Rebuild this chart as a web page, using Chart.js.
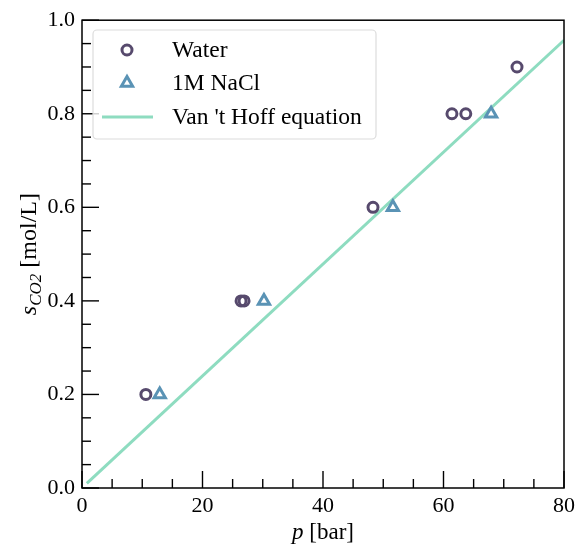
<!DOCTYPE html>
<html>
<head>
<meta charset="utf-8">
<script src="https://cdn.jsdelivr.net/npm/chart.js@4.4.1/dist/chart.umd.min.js"></script>
<style>
  html, body { margin: 0; padding: 0; background: #fff; }
  #wrap { width: 584px; height: 546px; }
</style>
</head>
<body>
<div id="wrap"><canvas id="chart" width="584" height="546"></canvas></div>
<script>
// data
const waterP = [10.6, 26.4, 26.9, 48.3, 61.4, 63.7, 72.2];
const waterS = [0.2, 0.4, 0.4, 0.6, 0.8, 0.8, 0.9];
const naclP = [12.9, 30.2, 51.6, 67.9];
const naclS = [0.2, 0.4, 0.6, 0.8];
const vantHoffP = [0.8, 80];
const vantHoffS = [0.01, 0.957];
const xTicks = [0, 20, 40, 60, 80];
const yTicks = [0.0, 0.2, 0.4, 0.6, 0.8, 1.0];

const WATER = '#574a6d';
const NACL = '#5a93b5';
const LINE = '#8edcc0';
const SERIF = '"Liberation Serif", "DejaVu Serif", serif';

const toXY = (xs, ys) => xs.map((x, i) => ({ x: x, y: ys[i] }));

// inward ticks, axis labels and legend box
const decor = {
    id: 'decor',
    afterDraw(chart) {
        const c = chart.ctx;
        const a = chart.chartArea;
        const xs = chart.scales.x, ys = chart.scales.y;
        c.save();
        c.strokeStyle = '#000';
        c.lineWidth = 1.5;
        c.strokeRect(a.left, a.top, a.right - a.left, a.bottom - a.top);
        c.lineWidth = 1.4;
        for (let v = 0; v <= 80; v += 5) {
            const px = xs.getPixelForValue(v);
            const len = v % 20 === 0 ? 17 : 9;
            c.beginPath(); c.moveTo(px, a.bottom); c.lineTo(px, a.bottom - len); c.stroke();
        }
        for (let k = 0; k <= 20; k++) {
            const py = ys.getPixelForValue(k * 0.05);
            const len = k % 4 === 0 ? 17 : 9;
            c.beginPath(); c.moveTo(a.left, py); c.lineTo(a.left + len, py); c.stroke();
        }

        // x title: italic p + [bar]
        c.fillStyle = '#000';
        c.textBaseline = 'alphabetic';
        const cx = (a.left + a.right) / 2;
        c.font = 'italic 23px ' + SERIF;
        const pW = c.measureText('p').width;
        c.font = '23px ' + SERIF;
        const bW = c.measureText(' [bar]').width;
        let sx = cx - (pW + bW) / 2;
        c.font = 'italic 23px ' + SERIF;
        c.fillText('p', sx, 539);
        c.font = '23px ' + SERIF;
        c.fillText(' [bar]', sx + pW, 539);

        // y title: s_CO2 [mol/L], rotated
        c.translate(36, (a.top + a.bottom) / 2);
        c.rotate(-Math.PI / 2);
        c.font = 'italic 24px ' + SERIF;
        const sW = c.measureText('s').width;
        c.font = 'italic 17px ' + SERIF;
        const subW = c.measureText('CO2').width;
        c.font = '24px ' + SERIF;
        const uW = c.measureText(' [mol/L]').width;
        let ty = -(sW + subW + uW) / 2;
        c.font = 'italic 24px ' + SERIF;
        c.fillText('s', ty, 0);
        c.font = 'italic 17px ' + SERIF;
        c.fillText('CO2', ty + sW, 5);
        c.font = '24px ' + SERIF;
        c.fillText(' [mol/L]', ty + sW + subW, 0);
        c.restore();

        // legend
        c.save();
        const lx = 93, ly = 30, lw = 283, lh = 109;
        c.fillStyle = 'rgba(255,255,255,0.8)';
        c.strokeStyle = '#dcdcdc';
        c.lineWidth = 1.2;
        c.beginPath();
        c.roundRect(lx, ly, lw, lh, 4);
        c.fill(); c.stroke();
        const ds = chart.data.datasets;
        const rows = [50, 83, 117];
        c.textBaseline = 'middle';
        ds.forEach((d, i) => {
            const y = rows[i];
            if (d.showLine) {
                c.strokeStyle = d.borderColor;
                c.lineWidth = d.borderWidth;
                c.beginPath(); c.moveTo(102, y); c.lineTo(153, y); c.stroke();
            } else {
                c.fillStyle = '#fff';
                c.strokeStyle = d.pointBorderColor;
                c.lineWidth = d.pointBorderWidth;
                Chart.helpers.drawPoint(c, {
                    pointStyle: d.pointStyle, radius: d.pointRadius,
                    borderWidth: d.pointBorderWidth
                }, 127, y);
            }
            c.fillStyle = '#000';
            c.font = '23.5px ' + SERIF;
            c.fillText(d.label, 172, y + 1);
        });
        c.restore();
    }
};

new Chart(document.getElementById('chart'), {
    type: 'scatter',
    data: {
        datasets: [{
            label: 'Water',
            data: toXY(waterP, waterS),
            pointStyle: 'circle',
            pointRadius: 5,
            pointBorderWidth: 3,
            pointBorderColor: WATER,
            pointBackgroundColor: 'rgba(0,0,0,0)',
            borderColor: WATER
        }, {
            label: '1M NaCl',
            data: toXY(naclP, naclS),
            pointStyle: 'triangle',
            pointRadius: 6.5,
            pointBorderWidth: 3,
            pointBorderColor: NACL,
            pointBackgroundColor: 'rgba(0,0,0,0)',
            borderColor: NACL
        }, {
            label: "Van 't Hoff equation",
            data: toXY(vantHoffP, vantHoffS),
            showLine: true,
            borderColor: LINE,
            borderWidth: 3,
            pointRadius: 0,
            order: 1
        }]
    },
    options: {
        responsive: false,
        animation: false,
        layout: { padding: { top: 18, right: 20, left: 0, bottom: 0 } },
        plugins: { legend: { display: false }, tooltip: { enabled: false } },
        scales: {
            x: {
                type: 'linear', min: 0, max: 80,
                afterBuildTicks: s => { s.ticks = xTicks.map(v => ({ value: v })); },
                afterFit: s => { s.height = 58; },
                grid: { display: false, drawTicks: false },
                border: { display: false },
                ticks: { color: '#000', padding: 5, maxRotation: 0, font: { family: SERIF, size: 22 } }
            },
            y: {
                type: 'linear', min: 0, max: 1,
                afterBuildTicks: s => { s.ticks = yTicks.map(v => ({ value: v })); },
                afterFit: s => { s.width = 82; },
                grid: { display: false, drawTicks: false },
                border: { display: false },
                ticks: { color: '#000', padding: 7, font: { family: SERIF, size: 22 },
                         callback: v => v.toFixed(1) }
            }
        }
    },
    plugins: [decor]
});
</script>
</body>
</html>
